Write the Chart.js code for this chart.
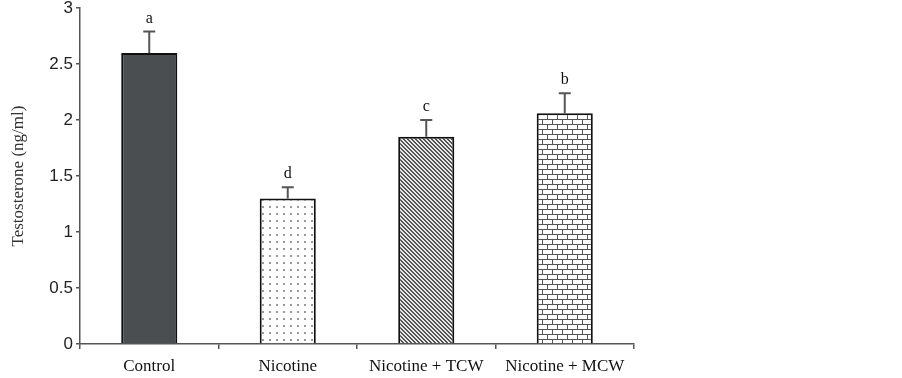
<!DOCTYPE html>
<html>
<head>
<meta charset="utf-8">
<script src="https://cdn.jsdelivr.net/npm/chart.js@4"></script>
<style>
  html, body { margin: 0; padding: 0; background: #fff; }
  #wrap { width: 902px; height: 378px; }
</style>
</head>
<body>
<div id="wrap"><canvas id="c" width="902" height="378"></canvas></div>
<script>
// data
const groups = ['Control', 'Nicotine', 'Nicotine + TCW', 'Nicotine + MCW'];
const means = [2.6, 1.3, 1.85, 2.06];
const errs = [0.19, 0.1, 0.15, 0.18];
const letters = ['a', 'd', 'c', 'b'];

// fill patterns
function makePattern(w, h, draw) {
  const cv = document.createElement('canvas');
  cv.width = w; cv.height = h;
  const g = cv.getContext('2d');
  draw(g);
  return g.createPattern(cv, 'repeat');
}
const ctx = document.getElementById('c').getContext('2d');

const dots = makePattern(7, 7, g => {
  g.fillStyle = '#fff'; g.fillRect(0, 0, 7, 7);
  g.fillStyle = '#999'; g.fillRect(3, 3, 2, 2);
});
const stripes = makePattern(4, 4, g => {
  g.fillStyle = '#e8e8e8'; g.fillRect(0, 0, 4, 4);
  g.fillStyle = '#555';
  for (let i = 0; i < 4; i++) { g.fillRect(i, i, 1, 1); g.fillRect((i + 1) % 4, i, 1, 1); }
});
const bricks = makePattern(10, 10, g => {
  g.fillStyle = '#fff'; g.fillRect(0, 0, 10, 10);
  g.fillStyle = '#555';
  g.fillRect(0, 4, 10, 1); g.fillRect(0, 9, 10, 1);
  g.fillRect(2, 0, 1, 4); g.fillRect(7, 5, 1, 4);
});
const fills = ['#4b4e51', dots, stripes, bricks];

// error bars + letters
const errorPlugin = {
  id: 'errorbars',
  afterDatasetsDraw(chart) {
    const c = chart.ctx;
    const x = chart.scales.x, y = chart.scales.y;
    c.save();
    c.strokeStyle = '#555';
    c.lineWidth = 2;
    means.forEach((m, i) => {
      const px = x.getPixelForValue(i);
      const top = y.getPixelForValue(m + errs[i]);
      const base = y.getPixelForValue(m);
      c.beginPath();
      c.moveTo(px, base); c.lineTo(px, top);
      c.moveTo(px - 6, top); c.lineTo(px + 6, top);
      c.stroke();
      c.fillStyle = '#111';
      c.font = '16px "Liberation Serif"';
      c.textAlign = 'center';
      c.textBaseline = 'alphabetic';
      c.fillText(letters[i], px, top - 9);
    });
    c.restore();
  }
};

new Chart(ctx, {
  type: 'bar',
  data: {
    labels: groups,
    datasets: [{
      data: means,
      backgroundColor: fills,
      borderColor: '#111',
      borderWidth: 2,
      categoryPercentage: 1,
      barPercentage: 0.405
    }]
  },
  options: {
    responsive: false,
    animation: false,
    layout: { padding: { top: 0, right: 268, left: 0, bottom: 0 } },
    plugins: { legend: { display: false }, tooltip: { enabled: false } },
    scales: {
      x: {
        afterFit: s => { s.height = 34; },
        border: { color: '#555', width: 1.5 },
        grid: { display: true, drawOnChartArea: false, offset: true, tickLength: 5, color: '#555', lineWidth: 1.5 },
        ticks: { color: '#111', font: { family: 'Liberation Serif', size: 17 }, padding: 7 }
      },
      y: {
        min: 0, max: 3,
        afterFit: s => { s.width = 80; },
        border: { color: '#555', width: 1.5 },
        grid: { display: true, drawOnChartArea: false, tickLength: 4, color: '#555', lineWidth: 1.5 },
        ticks: {
          stepSize: 0.5, color: '#222', padding: 3,
          font: { family: 'Liberation Sans', size: 17, lineHeight: 0.6 },
          callback: v => String(Number(v))
        },
        title: { display: true, text: 'Testosterone (ng/ml)', color: '#333', font: { family: 'Liberation Serif', size: 17 }, padding: { top: 8, bottom: 0 } }
      }
    }
  },
  plugins: [errorPlugin]
});
</script>
</body>
</html>
